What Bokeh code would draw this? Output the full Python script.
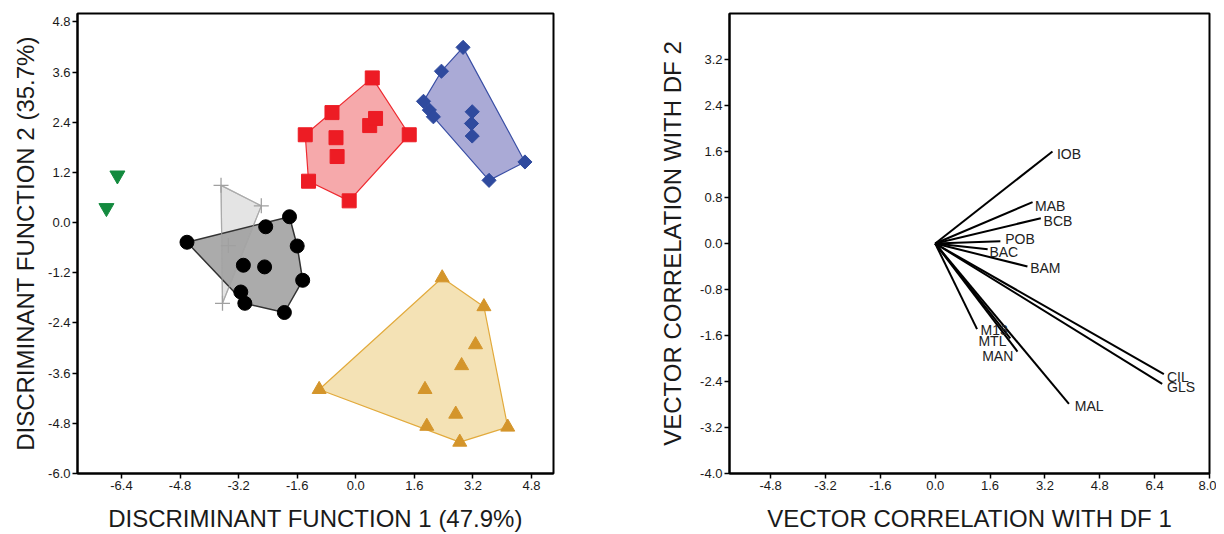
from bokeh.plotting import figure
from bokeh.layouts import row
from bokeh.models import FixedTicker, PrintfTickFormatter, Range1d
from bokeh.core.properties import value
from bokeh.embed import file_html
from bokeh.resources import INLINE

# ---------------- data: left panel (discriminant scores) ----------------
green_x = [-6.51, -6.81]
green_y = [1.13, 0.35]

red_x = [0.45, -0.65, -1.38, -0.54, -0.51, 0.38, 0.54, 1.46, -1.29, -0.18]
red_y = [3.46, 2.63, 2.10, 2.03, 1.58, 2.32, 2.49, 2.10, 0.99, 0.52]

blue_x = [2.93, 2.34, 1.85, 2.01, 2.12, 3.18, 3.16, 3.18, 4.62, 3.64]
blue_y = [4.19, 3.62, 2.90, 2.69, 2.53, 2.65, 2.37, 2.07, 1.45, 1.01]

black_x = [-4.61, -2.46, -1.81, -1.60, -3.07, -2.49, -1.45, -3.14, -3.03, -1.95]
black_y = [-0.47, -0.10, 0.14, -0.56, -1.02, -1.06, -1.38, -1.66, -1.93, -2.15]

cross_x = [-3.68, -2.58, -3.48, -3.64]
cross_y = [0.89, 0.40, -0.55, -1.93]

yellow_x = [2.36, 3.50, 3.27, 2.89, 1.89, -1.00, 2.73, 1.94, 2.84, 4.15]
yellow_y = [-1.32, -2.01, -2.92, -3.42, -3.99, -3.99, -4.58, -4.87, -5.25, -4.89]

left_xticks = [-6.4, -4.8, -3.2, -1.6, 0.0, 1.6, 3.2, 4.8]
left_yticks = [-6.0, -4.8, -3.6, -2.4, -1.2, 0.0, 1.2, 2.4, 3.6, 4.8]

# ---------------- data: right panel (vector correlations) ----------------
var_names = ["IOB", "MAB", "BCB", "POB", "BAC", "BAM", "M13", "MTL", "MAN", "MAL", "CIL", "GLS"]
vec_x = [3.42, 2.84, 3.08, 1.90, 1.53, 2.69, 1.22, 2.19, 2.40, 3.90, 6.67, 6.62]
vec_y = [1.60, 0.72, 0.44, 0.04, -0.10, -0.40, -1.49, -1.65, -1.88, -2.79, -2.27, -2.44]
lab_x = [3.55, 2.91, 3.16, 2.04, 1.58, 2.77, 1.32, 1.26, 1.37, 4.07, 6.76, 6.76]
lab_y = [1.56, 0.66, 0.40, 0.08, -0.15, -0.43, -1.50, -1.69, -1.96, -2.83, -2.32, -2.50]

right_xticks = [-4.8, -3.2, -1.6, 0.0, 1.6, 3.2, 4.8, 6.4, 8.0]
right_yticks = [-4.0, -3.2, -2.4, -1.6, -0.8, 0.0, 0.8, 1.6, 2.4, 3.2]

FONT = "Liberation Sans"


def hull(xs, ys):
    pts = sorted(set(zip(xs, ys)))

    def cross(o, a, b):
        return (a[0] - o[0]) * (b[1] - o[1]) - (a[1] - o[1]) * (b[0] - o[0])

    lower, upper = [], []
    for pt in pts:
        while len(lower) >= 2 and cross(lower[-2], lower[-1], pt) <= 0:
            lower.pop()
        lower.append(pt)
    for pt in reversed(pts):
        while len(upper) >= 2 and cross(upper[-2], upper[-1], pt) <= 0:
            upper.pop()
        upper.append(pt)
    h = lower[:-1] + upper[:-1]
    return [q[0] for q in h], [q[1] for q in h]


def style(p, xlabel, ylabel, xticks, yticks, ylabel_standoff):
    p.xgrid.visible = False
    p.ygrid.visible = False
    p.outline_line_color = "black"
    p.outline_line_width = 2
    p.background_fill_color = "white"
    p.border_fill_color = "white"
    p.xaxis.axis_label = xlabel
    p.yaxis.axis_label = ylabel
    p.xaxis.ticker = FixedTicker(ticks=xticks)
    p.yaxis.ticker = FixedTicker(ticks=yticks)
    for ax in (p.xaxis[0], p.yaxis[0]):
        ax.formatter = PrintfTickFormatter(format="%.1f")
        ax.axis_line_width = 2
        ax.axis_line_color = "black"
        ax.major_tick_line_width = 1.5
        ax.major_tick_line_color = "black"
        ax.major_tick_out = 5
        ax.major_tick_in = 0
        ax.minor_tick_out = 0
        ax.minor_tick_in = 0
        ax.major_label_text_font = FONT
        ax.major_label_text_font_size = "13px"
        ax.major_label_text_color = "#1a1a1a"
        ax.major_label_standoff = 2
        ax.axis_label_text_font = FONT
        ax.axis_label_text_font_size = "24px"
        ax.axis_label_text_font_style = "normal"
        ax.axis_label_text_color = "#1a1a1a"
    p.xaxis[0].axis_label_standoff = 12
    p.yaxis[0].axis_label_standoff = ylabel_standoff


# ---------------- left panel ----------------
p1 = figure(width=563, height=534, x_range=Range1d(-7.6, 5.4), y_range=Range1d(-6.0, 5.0),
            output_backend="svg", toolbar_location=None,
            min_border_left=77, min_border_right=10, min_border_top=13, min_border_bottom=59)
style(p1, "DISCRIMINANT FUNCTION 1 (47.9%)", "DISCRIMINANT FUNCTION 2 (35.7%)",
      left_xticks, left_yticks, 6)

hx, hy = hull(cross_x, cross_y)
p1.patch(hx, hy, fill_color="#e4e4e4", fill_alpha=1.0, line_color="#b0b0b0", line_width=1.2)
hx, hy = hull(black_x, black_y)
p1.patch(hx, hy, fill_color="#9c9c9c", fill_alpha=0.85, line_color="#333333", line_width=1.5)
hx, hy = hull(cross_x, cross_y)
p1.patch(hx, hy, fill_alpha=0, line_color="#a8a8a8", line_width=1.2, line_alpha=0.7)
hx, hy = hull(red_x, red_y)
p1.patch(hx, hy, fill_color="#f6a9ab", fill_alpha=1.0, line_color="#ee2a30", line_width=1.2)
hx, hy = hull(blue_x, blue_y)
p1.patch(hx, hy, fill_color="#aaaad6", fill_alpha=1.0, line_color="#3a4fa5", line_width=1.2)
hx, hy = hull(yellow_x, yellow_y)
p1.patch(hx, hy, fill_color="#f4e2b5", fill_alpha=1.0, line_color="#e2aa3c", line_width=1.2)

p1.scatter(cross_x, cross_y, marker="cross", size=15, line_color="#a0a0a0", line_width=1.3)
p1.scatter(black_x, black_y, marker="circle", size=14, fill_color="black", line_color="black")
p1.scatter(red_x, red_y, marker="square", size=14, fill_color="#ed1c24", line_color="#ed1c24")
p1.scatter(blue_x, blue_y, marker="square", size=10, angle=0.785398, fill_color="#2f4a9e",
           line_color="#2f4a9e")
p1.scatter(yellow_x, yellow_y, marker="triangle", size=14, fill_color="#d4952b", line_color="#d4952b")
p1.scatter(green_x, green_y, marker="inverted_triangle", size=15, fill_color="#138a3e",
           line_color="#138a3e")

# ---------------- right panel ----------------
p2 = figure(width=653, height=534, x_range=Range1d(-6.0, 8.0), y_range=Range1d(-4.0, 4.0),
            output_backend="svg", toolbar_location=None,
            min_border_left=166, min_border_right=7, min_border_top=13, min_border_bottom=59)
style(p2, "VECTOR CORRELATION WITH DF 1", "VECTOR CORRELATION WITH DF 2",
      right_xticks, right_yticks, 11)

p2.segment(x0=[0.0] * len(vec_x), y0=[0.0] * len(vec_y), x1=vec_x, y1=vec_y,
           line_color="black", line_width=2)
p2.text(x=lab_x, y=lab_y, text=var_names, text_font=value(FONT), text_font_size="14px",
        text_baseline="middle", text_align="left", text_color="#222222")

layout = row(p1, p2)
open("out.html", "w").write(file_html(layout, INLINE))
